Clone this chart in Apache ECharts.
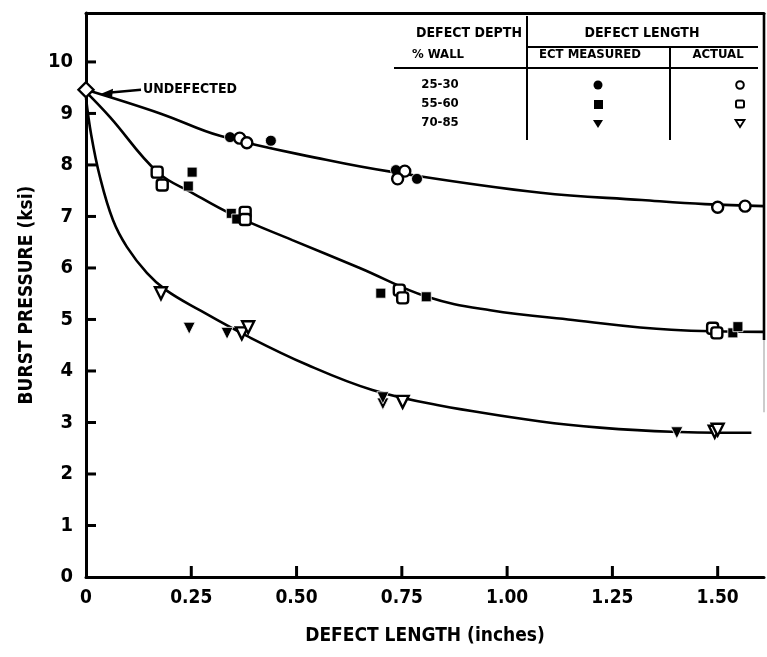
<!DOCTYPE html>
<html>
<head>
<meta charset="utf-8">
<title>Burst pressure vs defect length</title>
<script src="https://cdn.jsdelivr.net/npm/echarts@6/dist/echarts.min.js"></script>
<style>
  html, body { margin: 0; padding: 0; background: #fff; }
  #chart { width: 767px; height: 657px; }
</style>
</head>
<body>
<div id="chart"></div>
<script>
// axis ticks
var xTicks = [0, 0.25, 0.5, 0.75, 1.0, 1.25, 1.5];
var xTickLabels = ['0', '0.25', '0.50', '0.75', '1.00', '1.25', '1.50'];
var yTicks = [0, 1, 2, 3, 4, 5, 6, 7, 8, 9, 10];

// undefected specimen
var undefected = [[0, 9.46]];

// 25-30 % wall
var ect25 = [[0.342, 8.54], [0.439, 8.47], [0.736, 7.9], [0.786, 7.73]];
var act25 = [[0.365, 8.52], [0.382, 8.43], [0.757, 7.88], [0.74, 7.73], [1.5, 7.18], [1.565, 7.2]];
var curve25 = [[0, 9.46], [0.176, 9.0], [0.32, 8.56], [0.57, 8.1], [0.73, 7.86], [1.08, 7.46], [1.32, 7.32], [1.47, 7.24], [1.61, 7.2]];

// 55-60 % wall
var ect55 = [[0.252, 7.86], [0.243, 7.59], [0.345, 7.06], [0.358, 6.95], [0.70, 5.51], [0.808, 5.44], [1.536, 4.74], [1.548, 4.86]];
var act55 = [[0.169, 7.86], [0.181, 7.61], [0.378, 7.08], [0.378, 6.94], [0.744, 5.57], [0.752, 5.42], [1.488, 4.83], [1.498, 4.74]];
var curve55 = [[0, 9.42], [0.057, 8.93], [0.17, 7.86], [0.254, 7.45], [0.349, 7.03], [0.49, 6.54], [0.65, 6.0], [0.81, 5.44], [0.96, 5.18], [1.156, 4.99], [1.39, 4.8], [1.61, 4.76]];

// 70-85 % wall
var ect70 = [[0.245, 4.83], [0.335, 4.73], [0.705, 3.36], [0.705, 3.48], [1.403, 2.8]];
var act70 = [[0.178, 5.51], [0.37, 4.73], [0.385, 4.85], [0.752, 3.4], [1.493, 2.82], [1.5, 2.86]];
var curve70 = [[0, 9.3], [0.012, 8.6], [0.033, 7.77], [0.064, 6.93], [0.097, 6.41], [0.145, 5.9], [0.19, 5.57], [0.27, 5.18], [0.382, 4.68], [0.525, 4.12], [0.68, 3.63], [0.84, 3.33], [1.08, 3.02], [1.22, 2.9], [1.39, 2.82], [1.58, 2.8]];

var font = '"DejaVu Sans Condensed", "Liberation Sans Narrow", sans-serif';
var xMax = 1.61, yMax = 10.95;

var chart = echarts.init(document.getElementById('chart'));

function curve(data) {
    return {
        type: 'line', data: data, smooth: 0.4,
        showSymbol: false, silent: true, z: 2,
        lineStyle: { color: '#000', width: 2.6 }
    };
}
function filled(data, symbol, size, rot) {
    return {
        type: 'scatter', data: data, symbol: symbol, symbolSize: size,
        symbolRotate: rot || 0, z: 4,
        itemStyle: { color: '#000', borderColor: '#fff', borderWidth: 0.8, opacity: 1 }
    };
}
function open(data, symbol, size, rot) {
    return {
        type: 'scatter', data: data, symbol: symbol, symbolSize: size,
        symbolRotate: rot || 0, z: 5,
        itemStyle: { color: '#fff', borderColor: '#000', borderWidth: 2.4, opacity: 1 }
    };
}

var option = {
    backgroundColor: '#fff',
    animation: false,
    grid: { left: 86, right: 3, top: 13, bottom: 80 },
    xAxis: [{
        type: 'value', min: 0, max: xMax, interval: 0.25,
        name: 'DEFECT LENGTH (inches)', nameLocation: 'middle', nameGap: 50,
        nameTextStyle: { fontFamily: font, fontWeight: 'bold', fontSize: 19, color: '#000' },
        axisLine: { show: true, lineStyle: { color: '#000', width: 3 } },
        axisTick: { show: false },
        axisLabel: {
            margin: 12, showMaxLabel: false,
            fontFamily: font, fontWeight: 'bold', fontSize: 19, color: '#000',
            formatter: function (v) {
                for (var i = 0; i < xTicks.length; i++) {
                    if (Math.abs(xTicks[i] - v) < 1e-6) return xTickLabels[i];
                }
                return '';
            }
        },
        splitLine: { show: false }
    }, {
        type: 'value', min: 0, max: xMax, position: 'top',
        axisLine: { show: true, lineStyle: { color: '#000', width: 3 } },
        axisTick: { show: false }, axisLabel: { show: false }, splitLine: { show: false }
    }],
    yAxis: {
        type: 'value', min: 0, max: yMax, interval: 1,
        name: 'BURST PRESSURE (ksi)', nameLocation: 'middle', nameGap: 44, nameRotate: 90,
        nameTextStyle: { fontFamily: font, fontWeight: 'bold', fontSize: 19, color: '#000' },
        axisLine: { show: true, lineStyle: { color: '#000', width: 3 } },
        axisTick: { show: false },
        axisLabel: {
            margin: 13, showMaxLabel: false,
            fontFamily: font, fontWeight: 'bold', fontSize: 20, color: '#000',
            formatter: function (v) {
                return yTicks.indexOf(v) >= 0 ? String(v) : '';
            }
        },
        splitLine: { show: false }
    },
    series: [
        curve(curve25), curve(curve55), curve(curve70),
        filled(ect25, 'circle', 11),
        open(act25, 'circle', 11),
        filled(ect55, 'rect', 10),
        open(act55, 'roundRect', 11),
        filled(ect70, 'triangle', 12, 180),
        open(act70, 'triangle', 12, 180),
        open(undefected, 'diamond', 15)
    ]
};
chart.setOption(option);

function px(p) { return chart.convertToPixel({ xAxisIndex: 0, yAxisIndex: 0 }, p); }

// annotation, table, ticks and partial right frame
var d = px(undefected[0]);
var rTop = px([xMax, yMax]);
var rMid = px([xMax, 4.6]);
var rBot = px([xMax, 3.2]);

var blk = { stroke: '#000', lineWidth: 2 };
function hl(x1, x2, y) { return { type: 'line', shape: { x1: x1, y1: y, x2: x2, y2: y }, style: blk }; }
function vl(x, y1, y2) { return { type: 'line', shape: { x1: x, y1: y1, x2: x, y2: y2 }, style: blk }; }
function txt(t, x, y, size, align) {
    return {
        type: 'text', x: x, y: y,
        style: { text: t, font: 'bold ' + (size || 13) + 'px ' + font, fill: '#000',
                 align: align || 'center', verticalAlign: 'middle' }
    };
}

// tick marks drawn inward, as short bars
var ticks = [];
xTicks.slice(1).forEach(function (v) {
    var p = px([v, 0]);
    ticks.push({ type: 'rect', z: 10, shape: { x: p[0] - 1.5, y: p[1] - 11, width: 3, height: 11 }, style: { fill: '#000' } });
});
yTicks.slice(1).forEach(function (v) {
    var p = px([0, v]);
    ticks.push({ type: 'rect', z: 10, shape: { x: p[0], y: p[1] - 1.5, width: 10, height: 3 }, style: { fill: '#000' } });
});

chart.setOption({
    graphic: ticks.concat([
        // undefected arrow
        { type: 'line', shape: { x1: d[0] + 22, y1: d[1] + 3, x2: d[0] + 55, y2: d[1] }, style: { stroke: '#000', lineWidth: 2.6 } },
        { type: 'polygon', shape: { points: [[d[0] + 15, d[1] + 4], [d[0] + 27, d[1] - 1], [d[0] + 26, d[1] + 8]] }, style: { fill: '#000' } },
        txt('UNDEFECTED', d[0] + 57, d[1], 14, 'left'),
        // legend table
        vl(527, 16, 140), vl(670, 47, 140),
        hl(527, 758, 47), hl(394, 758, 68),
        txt('DEFECT DEPTH', 469, 33, 14), txt('% WALL', 438, 55),
        txt('DEFECT LENGTH', 642, 33, 14), txt('ECT MEASURED', 590, 55), txt('ACTUAL', 718, 55),
        txt('25-30', 440, 85), txt('55-60', 440, 104), txt('70-85', 440, 123),
        { type: 'circle', shape: { cx: 598, cy: 85, r: 4.5 }, style: { fill: '#000' } },
        { type: 'rect', shape: { x: 594, y: 100, width: 9, height: 9 }, style: { fill: '#000' } },
        { type: 'polygon', shape: { points: [[593, 120], [603, 120], [598, 128]] }, style: { fill: '#000' } },
        { type: 'circle', shape: { cx: 740, cy: 85, r: 3.8 }, style: { fill: '#fff', stroke: '#000', lineWidth: 2 } },
        { type: 'rect', shape: { x: 736, y: 100.5, width: 8, height: 7, r: 1.5 }, style: { fill: '#fff', stroke: '#000', lineWidth: 2 } },
        { type: 'polygon', shape: { points: [[735.5, 120], [744.5, 120], [740, 127]] }, style: { fill: '#fff', stroke: '#000', lineWidth: 1.8 } },
        // right frame (fades out in the original)
        { type: 'line', shape: { x1: rTop[0], y1: rTop[1], x2: rMid[0], y2: rMid[1] }, style: { stroke: '#000', lineWidth: 2.6 } },
        { type: 'line', shape: { x1: rMid[0], y1: rMid[1], x2: rBot[0], y2: rBot[1] }, style: { stroke: '#ccc', lineWidth: 2 } }
    ])
});
</script>
</body>
</html>
